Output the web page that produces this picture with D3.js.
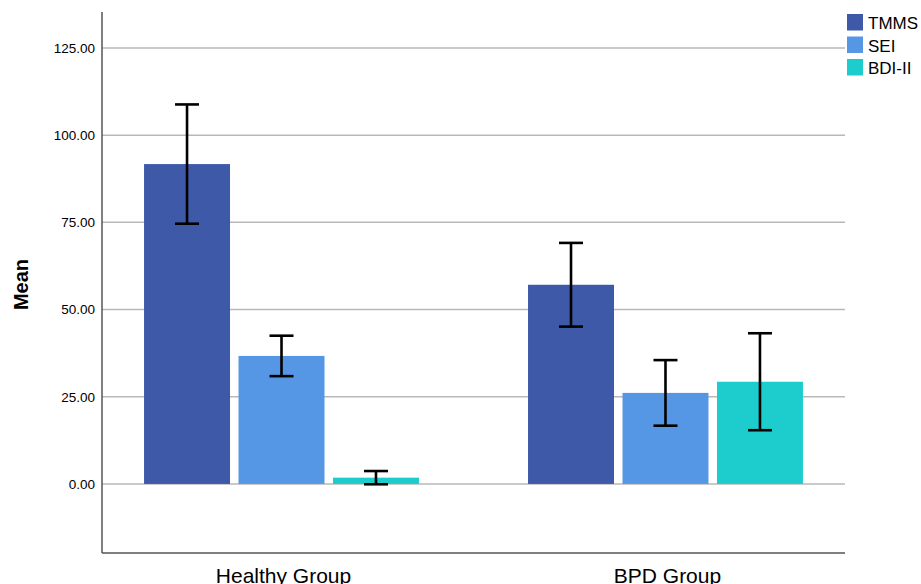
<!DOCTYPE html>
<html><head><meta charset="utf-8">
<script src="https://cdn.jsdelivr.net/npm/d3@7"></script>
<style>body{margin:0;background:#fff;}svg{display:block;font-family:"Liberation Sans",Arial,sans-serif;}</style>
</head><body>
<script>
const groups = ["Healthy Group", "BPD Group"];
const seriesNames = ["TMMS", "SEI", "BDI-II"];
const colors = ["#3e59a8", "#5597e4", "#1dcdcd"];
const tmmsMean = [91.7, 57.1];
const tmmsErr = [17.1, 12.0];
const seiMean = [36.7, 26.1];
const seiErr = [5.8, 9.4];
const bdiMean = [1.8, 29.3];
const bdiErr = [1.9, 13.9];
const yTicks = [0, 25, 50, 75, 100, 125];

const means = [tmmsMean, seiMean, bdiMean];
const errs = [tmmsErr, seiErr, bdiErr];

const W = 921, H = 584;
const pL = 102, pR = 845, pT = 12, pB = 553;
const svg = d3.select("body").append("svg").attr("width", W).attr("height", H);

const y = d3.scaleLinear().domain([-19.8, 135.3]).range([pB, pT]);
const x0 = d3.scaleBand().domain(groups).range([pL, pR]).paddingInner(0.284).paddingOuter(0.1095);
const x1 = d3.scaleBand().domain(seriesNames).range([0, x0.bandwidth()]).paddingInner(0.09).paddingOuter(0);

// gridlines
svg.append("g").selectAll("line").data(yTicks).join("line")
  .attr("x1", pL).attr("x2", pR)
  .attr("y1", d => y(d)).attr("y2", d => y(d))
  .attr("stroke", "#b8b8b8").attr("stroke-width", 1.5);

// y axis
const yAxis = d3.axisLeft(y).tickValues(yTicks).tickFormat(d3.format(".2f")).tickSize(0).tickPadding(7);
const gy = svg.append("g").attr("transform", `translate(${pL},0)`).call(yAxis);
gy.select(".domain").remove();
gy.selectAll("text").attr("font-size", 13.5).attr("fill", "#000").attr("font-family", "Liberation Sans, Arial, sans-serif");

// bars
const data = [];
groups.forEach((g, gi) => seriesNames.forEach((s, si) => data.push({g, s, si, m: means[si][gi], e: errs[si][gi]})));
svg.append("g").selectAll("rect").data(data).join("rect")
  .attr("x", d => x0(d.g) + x1(d.s)).attr("width", x1.bandwidth())
  .attr("y", d => y(Math.max(0, d.m))).attr("height", d => Math.abs(y(d.m) - y(0)))
  .attr("fill", d => colors[d.si]);

// error bars
const eb = svg.append("g").attr("stroke", "#000").attr("stroke-width", 2.6);
data.forEach(d => {
  const cx = x0(d.g) + x1(d.s) + x1.bandwidth() / 2;
  eb.append("line").attr("x1", cx).attr("x2", cx).attr("y1", y(d.m + d.e)).attr("y2", y(d.m - d.e));
  eb.append("line").attr("x1", cx - 12).attr("x2", cx + 12).attr("y1", y(d.m + d.e)).attr("y2", y(d.m + d.e));
  eb.append("line").attr("x1", cx - 12).attr("x2", cx + 12).attr("y1", y(d.m - d.e)).attr("y2", y(d.m - d.e));
});

// axis lines
svg.append("line").attr("x1", pL).attr("x2", pL).attr("y1", pT).attr("y2", pB).attr("stroke", "#555").attr("stroke-width", 1.5);
svg.append("line").attr("x1", pL).attr("x2", pR).attr("y1", pB).attr("y2", pB).attr("stroke", "#555").attr("stroke-width", 1.5);

// x labels
svg.append("g").selectAll("text").data(groups).join("text")
  .attr("x", d => x0(d) + x0.bandwidth() / 2 + 2).attr("y", 583)
  .attr("text-anchor", "middle").attr("font-size", 21).text(d => d);

// y title
svg.append("text").attr("transform", `translate(28,${(pT + pB) / 2 + 2}) rotate(-90)`)
  .attr("text-anchor", "middle").attr("font-size", 20).attr("font-weight", "bold").text("Mean");

// legend
const lg = svg.append("g").attr("transform", "translate(847,14)");
seriesNames.forEach((s, i) => {
  lg.append("rect").attr("x", 0).attr("y", i * 22.5).attr("width", 16).attr("height", 16.5).attr("fill", colors[i]);
  lg.append("text").attr("x", 21).attr("y", i * 22.5 + 15).attr("font-size", 17).text(s);
});
</script>
</body></html>
